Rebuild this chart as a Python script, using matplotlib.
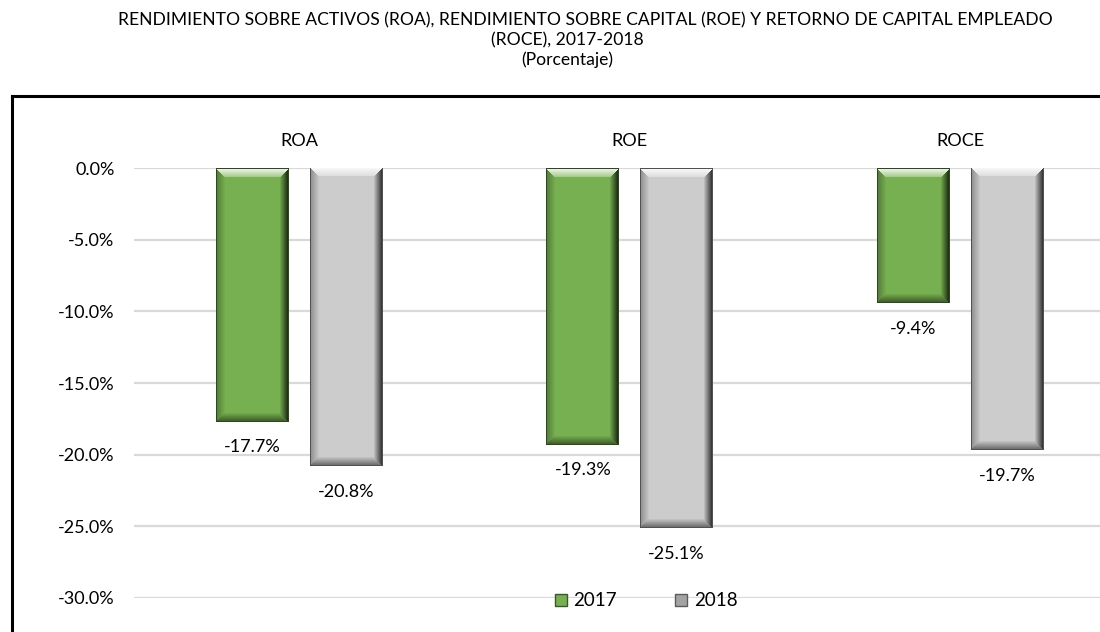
import numpy as np
import matplotlib
matplotlib.use('Agg')
import matplotlib.pyplot as plt
from matplotlib.patches import Patch
from matplotlib.lines import Line2D
from matplotlib.ticker import FuncFormatter

plt.rcParams['font.family'] = ['Lato', 'DejaVu Sans']

categories = ['ROA', 'ROE', 'ROCE']
years = ['2017', '2018']
v2017 = [-17.7, -19.3, -9.4]
v2018 = [-20.8, -25.1, -19.7]
yticks = [0, -5, -10, -15, -20, -25, -30]

green = np.array([118, 176, 80]) / 255
gray = np.array([204, 204, 204]) / 255

W, H = 1100, 632
fig = plt.figure(figsize=(W / 100, H / 100), dpi=100)
# plot area runs past the right edge of the picture, as in the original
ax = fig.add_axes([134 / W, 34 / H, 991.5 / W, 430 / H])
ax.set_xlim(-0.5, 2.5)
ax.set_ylim(-30, 0)


def bevel_img(base, w, h, b=9):
    w = max(int(round(w)), 2)
    h = max(int(round(h)), 2)
    jj, ii = np.meshgrid(np.arange(w), np.arange(h))
    dl = jj.astype(float)
    dr = (w - 1 - jj).astype(float)
    dt = ii.astype(float)
    db = (h - 1 - ii).astype(float)
    stack = np.stack([dt, dr, db, dl])
    side = np.argmin(stack, axis=0)
    m = np.min(stack, axis=0)
    img = np.ones((h, w, 4))
    img[..., :3] = base
    t = np.clip(1 - m / b, 0, 1)[..., None]
    inb = (m < b)[..., None]
    white = np.ones(3)
    top = base + (white - base) * (0.3 + 0.6 * t)
    right = base * (1 - 0.8 * t)
    bottom = base * (1 - 0.5 * t)
    left = base * (1 - 0.3 * t)
    for k, col in enumerate([top, right, bottom, left]):
        sel = inb & (side == k)[..., None]
        img[..., :3] = np.where(sel, col, img[..., :3])
    # thin dark outline
    edge = (m < 1)[..., None]
    img[..., :3] = np.where(edge, base * 0.4, img[..., :3])
    return np.clip(img, 0, 1)


x = np.arange(len(categories))
bw = 0.22
off = 0.142
bars1 = ax.bar(x - off, v2017, bw, color=green, zorder=2)
bars2 = ax.bar(x + off, v2018, bw, color=gray, zorder=2)

for bars, base in [(bars1, green), (bars2, gray)]:
    for p in bars:
        x0, y0 = p.get_x(), p.get_y()
        x1, y1 = x0 + p.get_width(), y0 + p.get_height()
        (px0, py0), (px1, py1) = ax.transData.transform([(x0, y0), (x1, y1)])
        img = bevel_img(base, abs(px1 - px0), abs(py1 - py0))
        ax.imshow(img, extent=[x0, x1, min(y0, y1), max(y0, y1)],
                  origin='upper', aspect='auto', zorder=3, interpolation='nearest')
        ax.text((x0 + x1) / 2, min(y0, y1) - 1.8, f'{p.get_height():.1f}%',
                ha='center', va='center', fontsize=13, color='#000000', zorder=4)

ax.set_xlim(-0.5, 2.5)
ax.set_ylim(-30, 0)
ax.set_yticks(yticks)
ax.yaxis.set_major_formatter(FuncFormatter(lambda v, _: f'{v:.1f}%'))
ax.grid(axis='y', color='#D9D9D9', linewidth=1.6, zorder=0)
ax.set_axisbelow(True)
ax.xaxis.tick_top()
ax.set_xticks(x)
ax.set_xticklabels(categories)
ax.tick_params(axis='x', length=0, pad=14, labelsize=13)
ax.tick_params(axis='y', length=0, pad=14, labelsize=13)
for s in ax.spines.values():
    s.set_visible(False)

handles = [Patch(facecolor=green, edgecolor=green * 0.5, label=years[0]),
           Patch(facecolor=gray * 0.8, edgecolor=gray * 0.45, label=years[1])]
fig.legend(handles=handles, loc='center', bbox_to_anchor=(646 / W, 1 - 601 / H),
           ncol=2, frameon=False, fontsize=13.5, handlelength=0.65, handleheight=0.65,
           handletextpad=0.35, columnspacing=3.1)

# outer frame of the chart (continues past the picture edges)
fig.add_artist(Line2D([12 / W, 1.01], [1 - 96 / H, 1 - 96 / H], color='black', linewidth=2.2))
fig.add_artist(Line2D([12 / W, 12 / W], [1 - 96 / H, -0.01], color='black', linewidth=2.2))

fig.text(585 / W, 1 - 20 / H,
         'RENDIMIENTO SOBRE ACTIVOS (ROA), RENDIMIENTO SOBRE CAPITAL (ROE) Y RETORNO DE CAPITAL EMPLEADO',
         ha='center', va='center', fontsize=12.6)
fig.text(567 / W, 1 - 40 / H, '(ROCE), 2017-2018', ha='center', va='center', fontsize=12.6)
fig.text(567 / W, 1 - 60 / H, '(Porcentaje)', ha='center', va='center', fontsize=12.6)

fig.savefig('out.png', dpi=100)
